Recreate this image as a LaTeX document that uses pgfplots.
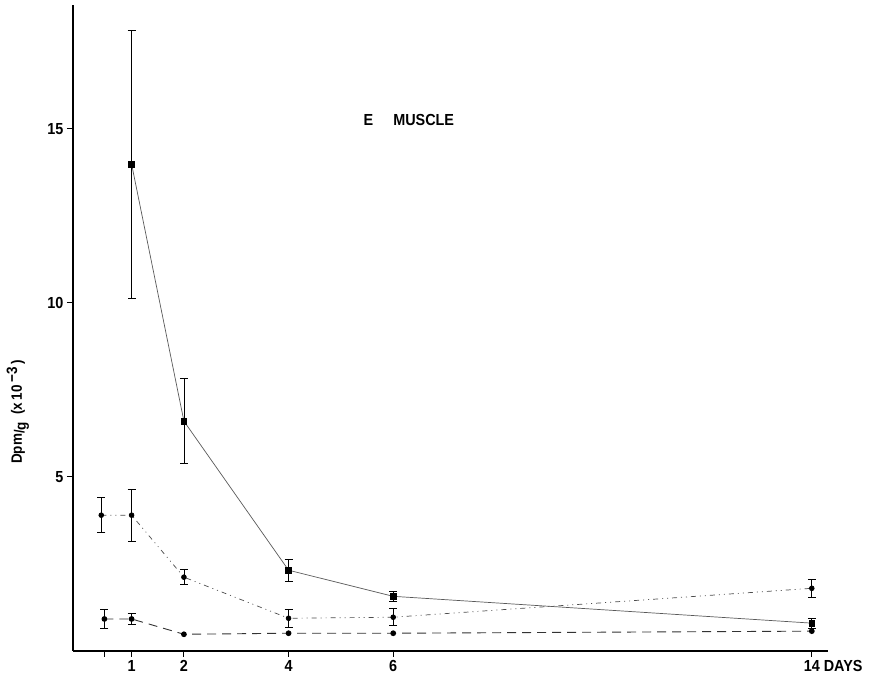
\documentclass[border=0pt]{standalone}
\usepackage{pgfplots}
\pgfplotsset{compat=1.18}
\usepackage{fontspec}
\setmainfont{Liberation Sans}
\newfontfamily\narrowfont[FakeStretch=0.9]{Liberation Sans}
\begin{document}
\begin{tikzpicture}[x=1pt,y=1pt]
\begin{axis}[
  scale only axis,
  width=755pt, height=646pt,
  xmin=-0.12, xmax=14.31,
  ymin=0, ymax=18.55,
  axis lines=left,
  axis line style={line width=1.8pt, -},
  xtick={0.48,1,2,4,6,14},
  xticklabels={,1,2,4,6,{14\rlap{ DAYS}}},
  ytick={5,10,15},
  tick align=outside,
  major tick length=6pt,
  tick style={line width=1pt, black},
  tick label style={font=\narrowfont\fontsize{16}{18}\selectfont\bfseries},
  /pgf/number format/assume math mode=true,
  ylabel={Dpm\raisebox{-0.3ex}{\Large/}\raisebox{-0.5ex}{g}\ \ (x\,10\raisebox{0.6ex}{\,−3}\,)},
  ylabel style={font=\narrowfont\fontsize{15}{17}\selectfont\bfseries, at={(axis description cs:-0.073,0.37)}, anchor=center, rotate=0},
  clip=false,
  error bars/error bar style={line width=0.6pt, black, solid},
  error bars/error mark options={line width=0.9pt, mark size=4pt, rotate=90, solid},
]
\coordinate (bl) at (rel axis cs:0,0);
\coordinate (tr) at (rel axis cs:1,1);
% solid series
\addplot[gray!70!black, line width=0.7pt, mark=square*, mark size=2.8pt, mark options={solid, fill=black, draw=black},
  error bars/.cd, y dir=both, y explicit]
  coordinates {
  (1,13.98) +- (0,3.85)
  (2,6.6) +- (0,1.22)
  (4,2.32) +- (0,0.31)
  (6,1.57) +- (0,0.15)
  (14,0.8) +- (0,0.14)
  };
% dash-dot-dot series
\addplot[gray!60!black, line width=0.7pt, dash pattern=on 5pt off 4pt on 1pt off 4pt on 1pt off 4pt, mark=*, mark size=2.4pt, mark options={solid, fill=black, draw=black},
  error bars/.cd, y dir=both, y explicit]
  coordinates {
  (0.42,3.9) +- (0,0.5)
  (1,3.9) +- (0,0.75)
  (2,2.12) +- (0,0.22)
  (4,0.94) +- (0,0.26)
  (6,0.97) +- (0,0.25)
  (14,1.8) +- (0,0.25)
  };
% dashed series
\addplot[black!80, line width=0.9pt, dash pattern=on 9pt off 6pt, mark=*, mark size=2.4pt, mark options={solid, fill=black, draw=black},
  error bars/.cd, y dir=both, y explicit]
  coordinates {
  (0.48,0.92) +- (0,0.27)
  (1,0.92) +- (0,0.15)
  (2,0.48)
  (4,0.51)
  (6,0.51)
  (14,0.57)
  };
\node[font=\narrowfont\fontsize{16}{18}\selectfont\bfseries, anchor=center] at (axis cs:6.3,15.25) {E\quad\ MUSCLE};
\end{axis}
\pgfresetboundingbox
\path[use as bounding box] ([shift={(-73pt,-25pt)}]bl) rectangle ([shift={(47pt,5pt)}]tr);
\end{tikzpicture}
\end{document}
